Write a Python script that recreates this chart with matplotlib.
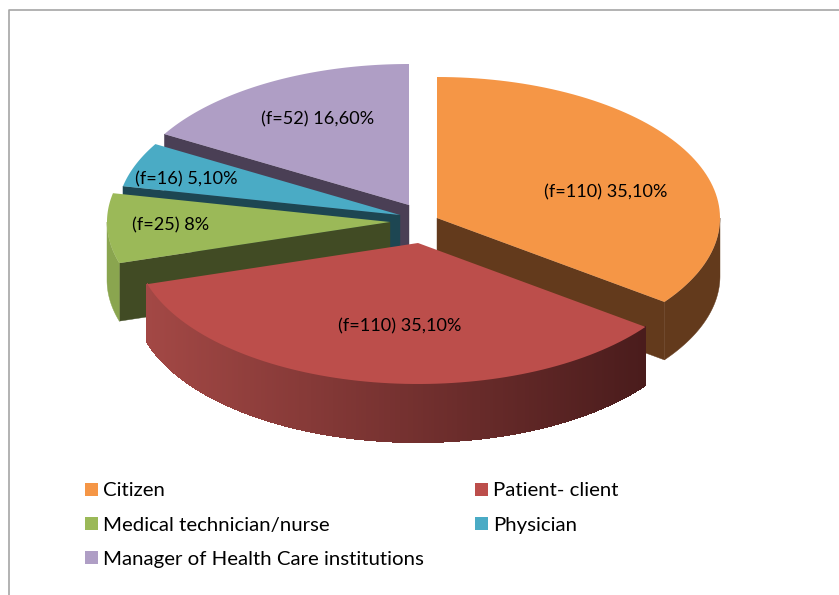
import numpy as np
from matplotlib import pyplot as plt
from matplotlib.patches import Polygon, Rectangle

plt.rcParams['font.family'] = ['Lato', 'DejaVu Sans']

categories = ["Citizen", "Patient- client", "Medical technician/nurse", "Physician",
              "Manager of Health Care institutions"]
freq = [110, 110, 25, 16, 52]
slice_labels = ["(f=110) 35,10%", "(f=110) 35,10%", "(f=25) 8%", "(f=16) 5,10%", "(f=52) 16,60%"]

top_colors = ["#f59646", "#bc4e4b", "#9bb958", "#4aabc5", "#af9ec5"]
cut_colors = ["#633a1c", "#4c1e1e", "#414b24", "#1d4652", "#4a3f55"]

# layout, all in pixels of the 839x595 picture
RX, RY, DEPTH = 283, 141, 58
apex_x = [437, 418, 390, 400, 409]
apex_y = [218, 243, 222, 215, 205]
label_x = [606, 400, 171, 186, 318]
label_y = [192, 326, 225, 179, 119]
legend_x = [85, 475, 85, 475, 85]
legend_y = [490, 490, 524, 524, 558]


def arc(i, a0, a1, drop=0, n=80):
    t = np.radians(np.linspace(a0, a1, n))
    return np.column_stack([apex_x[i] + RX * np.cos(t), apex_y[i] - RY * np.sin(t) + drop])


def mix(c0, c1, f):
    c0 = np.array(plt.matplotlib.colors.to_rgb(c0))
    c1 = np.array(plt.matplotlib.colors.to_rgb(c1))
    return tuple(c0 + (c1 - c0) * f)


fig = plt.figure(figsize=(8.39, 5.95), dpi=100)
ax = fig.add_axes([0, 0, 1, 1])
ax.set_xlim(0, 839)
ax.set_ylim(595, 0)
ax.axis('off')

# chart frame
ax.plot([9, 9, 839], [595, 10, 10], color="#a6a6a6", lw=1.2, solid_capstyle='butt')

# slice angles, clockwise from 12 o'clock
sweep = np.array(freq) / sum(freq) * 360
ends = 90 - np.cumsum(sweep)
starts = ends + sweep

# back slices first, the red one last since it sits in front
for i in [4, 3, 2, 0, 1]:
    a0, a1 = starts[i], ends[i]
    apex = np.array([apex_x[i], apex_y[i]])

    # flat cut face that shows under the slice, on the edge nearest the viewer
    if i != 1:
        corner = arc(i, a1 if i == 0 else a0, 0, n=1)[0]
        face = [apex, corner, corner + [0, DEPTH], apex + [0, DEPTH]]
        ax.add_patch(Polygon(face, closed=True, fc=cut_colors[i], ec=cut_colors[i], lw=0.3))

    # outer wall, only the part that faces down
    if i == 0:
        wall = np.vstack([arc(i, 0, a1), arc(i, 0, a1, DEPTH)[::-1]])
        ax.add_patch(Polygon(wall, closed=True, fc=cut_colors[i], ec=cut_colors[i], lw=0.3))
    if i == 2:
        wall = np.vstack([arc(i, -180, a0), arc(i, -180, a0, DEPTH)[::-1]])
        ax.add_patch(Polygon(wall, closed=True, fc="#8aa54f", ec="#8aa54f", lw=0.3))
    if i == 1:
        # gradient along the front wall, left to right, one strip per step
        edges = np.linspace(a1, a0, 241)
        xl = arc(i, a1, a1, n=1)[0, 0]
        xr = arc(i, a0, a0, n=1)[0, 0]
        for k in range(240):
            p = arc(i, edges[k], edges[k + 1], n=3)
            f = (p[:, 0].mean() - xl) / (xr - xl)
            col = mix("#a34845", "#4a1c1c", f)
            strip = np.vstack([p, arc(i, edges[k], edges[k + 1], DEPTH, n=3)[::-1]])
            ax.add_patch(Polygon(strip, closed=True, fc=col, ec=col, lw=0.8, antialiased=False))

    top = np.vstack([apex, arc(i, a0, a1)])
    ax.add_patch(Polygon(top, closed=True, fc=top_colors[i], ec='none'))

for i in range(len(freq)):
    ax.text(label_x[i], label_y[i], slice_labels[i], ha='center', va='center',
            fontsize=13.1, color="black")
    ax.add_patch(Rectangle((legend_x[i], legend_y[i] - 7), 12.5, 13, fc=top_colors[i], ec='none'))
    ax.text(legend_x[i] + 18, legend_y[i] + 1, categories[i], ha='left', va='center',
            fontsize=14.7, color="black")

fig.savefig("out.png", dpi=100)
